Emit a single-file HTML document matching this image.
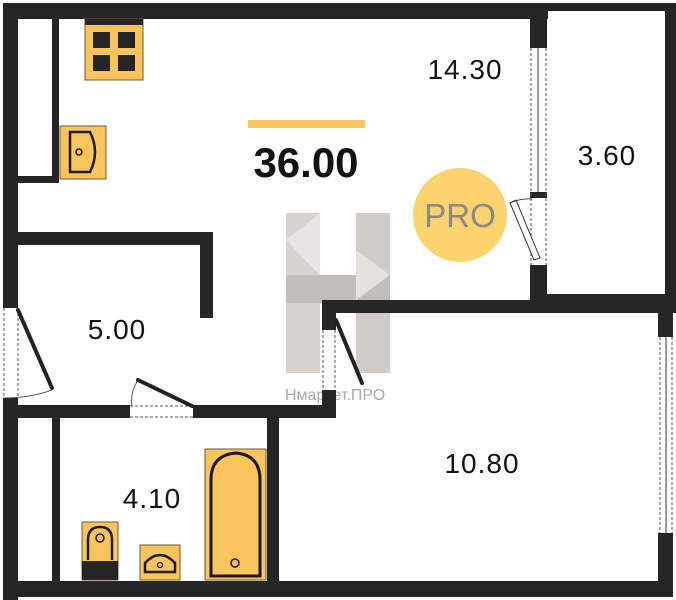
<!DOCTYPE html>
<html><head><meta charset="utf-8"><style>
html,body{margin:0;padding:0;background:#fff;}
svg{display:block}
text{font-family:"Liberation Sans",sans-serif;}
</style></head><body>
<svg width="676" height="600" viewBox="0 0 676 600" xmlns="http://www.w3.org/2000/svg">
<!-- watermark -->
<g opacity="0.55">
<rect x="286" y="213" width="34" height="160" fill="#b8b2ab"/>
<rect x="356" y="213" width="34" height="160" fill="#a9a39b"/>
<rect x="286" y="275" width="104" height="28" fill="#8f8880"/>
<polygon points="286,240 320,213 320,275" fill="#d8d3cd"/>
<polygon points="356,250 390,275 356,300" fill="#d0cbc4"/>
</g>
<text x="285" y="400" font-size="16" fill="#aaa">Нмаркет.ПРО</text>
<g fill="#262626">
<rect x="3" y="3" width="545" height="16"/>
<rect x="3" y="3" width="15" height="305"/>
<rect x="3" y="398" width="15" height="202"/>
<rect x="3" y="581" width="670" height="16"/>
<rect x="52" y="19" width="7" height="164"/>
<rect x="18" y="176" width="41" height="7"/>
<rect x="18" y="232" width="195" height="13"/>
<rect x="200" y="232" width="13" height="86"/>
<rect x="18" y="405" width="112" height="13"/>
<rect x="193" y="405" width="143" height="13"/>
<rect x="52" y="418" width="8" height="164"/>
<rect x="267" y="418" width="12" height="164"/>
<rect x="322" y="300" width="14" height="30"/>
<rect x="322" y="390" width="14" height="28"/>
<rect x="322" y="300" width="354" height="13"/>
<rect x="530" y="3" width="17" height="45"/>
<rect x="530" y="192" width="17" height="6"/>
<rect x="530" y="265" width="17" height="48"/>
<rect x="547" y="3" width="129" height="8"/>
<rect x="665" y="3" width="11" height="300"/>
<rect x="547" y="294" width="129" height="6"/>
<rect x="658" y="300" width="15" height="37"/>
<rect x="658" y="533" width="15" height="60"/>
</g>
<g stroke="#555" stroke-dasharray="3,2" fill="none" stroke-width="1">
<line x1="531" y1="48" x2="531" y2="265"/><line x1="546" y1="48" x2="546" y2="265"/>
<line x1="660" y1="337" x2="660" y2="533"/><line x1="672" y1="337" x2="672" y2="533"/>
<line x1="4" y1="308" x2="4" y2="398"/><line x1="18" y1="308" x2="18" y2="398"/>
<line x1="130" y1="406" x2="193" y2="406"/><line x1="130" y1="417" x2="193" y2="417"/>
<line x1="323" y1="330" x2="323" y2="390"/><line x1="335" y1="330" x2="335" y2="390"/>
</g>
<line x1="538" y1="48" x2="538" y2="192" stroke="#333"/>
<line x1="666" y1="337" x2="666" y2="533" stroke="#333"/>
<g stroke="#222" stroke-width="4" stroke-linecap="round">
<line x1="18" y1="310" x2="52" y2="388"/>
<line x1="138" y1="380" x2="192" y2="406"/>
<line x1="336" y1="320" x2="362" y2="383"/>
</g>
<polygon points="510,203 516,200 540,258 534,260" fill="#fff" stroke="#333"/>
<g stroke="#333" fill="none" stroke-width="0.8">
<path d="M4 398 Q30 398 52 390"/>
<path d="M132 406 Q130 392 138 380"/>
<path d="M510 203 Q522 198 532 199"/>
</g>
<rect x="85" y="19" width="58" height="61" fill="#fcc45c" stroke="#6b5a30"/>
<rect x="85" y="19" width="58" height="6" fill="#262626"/>
<g fill="#262626">
<rect x="93" y="32" width="17" height="16"/><rect x="118" y="32" width="17" height="16"/>
<rect x="93" y="55" width="17" height="16"/><rect x="118" y="55" width="17" height="16"/>
</g>
<rect x="60" y="126" width="46" height="53" fill="#fcc45c" stroke="#6b5a30"/>
<path d="M70 132 H90 Q100 152 90 172 H70 Z" fill="none" stroke="#1a1a1a" stroke-width="2.5"/>
<circle cx="79" cy="152" r="3" fill="none" stroke="#1a1a1a" stroke-width="1.5"/>
<rect x="205" y="449" width="61" height="131" fill="#fcc45c" stroke="#6b5a30"/>
<path d="M211 576 V480 Q211 455 236 453 Q260 455 260 480 V576 Z" fill="none" stroke="#1a1a1a" stroke-width="3"/>
<circle cx="235" cy="563" r="4" fill="none" stroke="#1a1a1a" stroke-width="1.5"/>
<rect x="82" y="522" width="36" height="58" fill="#fcc45c" stroke="#6b5a30"/>
<rect x="82" y="561" width="36" height="19" fill="#262626"/>
<path d="M88 560 V540 Q88 527 100 527 Q112 527 112 540 V560" fill="none" stroke="#1a1a1a" stroke-width="2.5"/>
<circle cx="100" cy="538" r="4" fill="none" stroke="#1a1a1a" stroke-width="1.5"/>
<rect x="140" y="545" width="40" height="35" fill="#fcc45c" stroke="#6b5a30"/>
<path d="M145 572 V563 Q160 547 175 563 V572 Z" fill="none" stroke="#1a1a1a" stroke-width="2.5"/>
<circle cx="160" cy="565" r="2.5" fill="none" stroke="#1a1a1a" stroke-width="1.2"/>
<circle cx="460" cy="215" r="47" fill="#fdd36e"/>
<text x="460" y="227" font-size="33" fill="#888" text-anchor="middle">PRO</text>
<rect x="248" y="120" width="117" height="8" fill="#fcc45c"/>
<text x="306" y="177" font-size="42" font-weight="bold" fill="#111" text-anchor="middle">36.00</text>
<g font-size="28" fill="#111" text-anchor="middle" letter-spacing="1">
<text x="465" y="79">14.30</text>
<text x="607" y="165">3.60</text>
<text x="117" y="339">5.00</text>
<text x="152" y="508">4.10</text>
<text x="482" y="473">10.80</text>
</g>
</svg>
</body></html>
